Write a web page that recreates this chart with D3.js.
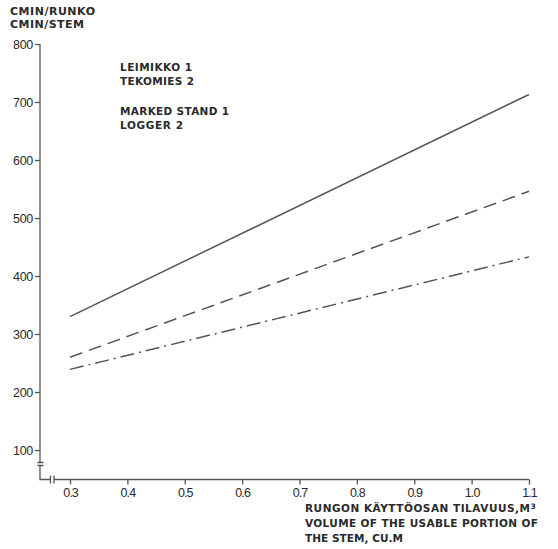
<!DOCTYPE html>
<html>
<head>
<meta charset="utf-8">
<script src="https://cdn.jsdelivr.net/npm/d3@7"></script>
<style>
  html, body { margin: 0; padding: 0; background: #fff; }
  svg { display: block; }
  .tick text { font-family: "Liberation Sans", Arial, sans-serif; font-size: 12.5px; fill: #2a2a2a; }
  .tick line { stroke: #555; stroke-width: 1.3; }
  .lbl { font-family: "DejaVu Sans", sans-serif; font-weight: bold; fill: #2a2a2a; }
</style>
</head>
<body>
<script>
// Stem volume (m³) at the ends of each fitted line
const volumes = [0.3, 1.1];
// Time per stem (cmin) for each line
const solidLine = [330, 713];
const dashedLine = [260, 546];
const dashDotLine = [239, 433];

const xTicks = [0.3, 0.4, 0.5, 0.6, 0.7, 0.8, 0.9, 1.0, 1.1];
const yTicks = [100, 200, 300, 400, 500, 600, 700, 800];

const W = 558, H = 549;
const svg = d3.select("body").append("svg").attr("width", W).attr("height", H);

const x = d3.scaleLinear().domain([0.3, 1.1]).range([70, 529]);
const y = d3.scaleLinear().domain([100, 800]).range([450, 44]);

const axisColor = "#555";

// Y axis ticks
const gy = svg.append("g").attr("transform", "translate(40,0)")
  .call(d3.axisLeft(y).tickValues(yTicks).tickSize(5).tickPadding(2).tickFormat(d3.format("d")));
gy.select(".domain").remove();
gy.selectAll(".tick text").attr("letter-spacing", "-0.3");

// X axis ticks
const gx = svg.append("g").attr("transform", "translate(0,479.5)")
  .call(d3.axisBottom(x).tickValues(xTicks).tickSize(5).tickPadding(4)
    .tickFormat(d => d.toFixed(1)));
gx.select(".domain").remove();
gx.selectAll(".tick text").attr("letter-spacing", "-0.9");

// Axis lines with break marks near the origin
const ax = svg.append("g").attr("stroke", axisColor).attr("stroke-width", 1.3).attr("fill", "none");
ax.append("path").attr("d", `M40,${y(800)}V462.5`);
ax.append("path").attr("d", "M37.5,462.5H43.5M37.5,465.5H43.5");
ax.append("path").attr("d", "M40,465.5V479.5H50.5");
ax.append("path").attr("d", "M50.5,475.5V483.5M54,475.5V483.5");
ax.append("path").attr("d", `M54,479.5H${x(1.1)}`);

// Fitted lines
const line = d3.line().x((d, i) => x(volumes[i])).y(d => y(d));
const series = [
  { values: solidLine, dash: null },
  { values: dashedLine, dash: "13,7" },
  { values: dashDotLine, dash: "14,5,2,5" }
];
svg.append("g").selectAll("path").data(series).join("path")
  .attr("d", d => line(d.values))
  .attr("fill", "none")
  .attr("stroke", "#555")
  .attr("stroke-width", 1.5)
  .attr("stroke-dasharray", d => d.dash);

// Y axis title
const yt = svg.append("text").attr("class", "lbl").attr("font-size", 11);
yt.append("tspan").attr("x", 10).attr("y", 15).attr("textLength", 85).attr("lengthAdjust", "spacing").text("CMIN/RUNKO");
yt.append("tspan").attr("x", 10).attr("y", 28).attr("textLength", 74).attr("lengthAdjust", "spacing").text("CMIN/STEM");

// Legend block
const leg = [
  { t: "LEIMIKKO 1", y: 71, w: 72 },
  { t: "TEKOMIES 2", y: 85, w: 74 },
  { t: "MARKED STAND 1", y: 115, w: 109 },
  { t: "LOGGER 2", y: 129, w: 63 }
];
svg.append("g").selectAll("text").data(leg).join("text")
  .attr("class", "lbl").attr("font-size", 10.5)
  .attr("x", 120).attr("y", d => d.y)
  .attr("textLength", d => d.w).attr("lengthAdjust", "spacing")
  .text(d => d.t);

// X axis title
const xt = svg.append("g");
const t1 = xt.append("text").attr("class", "lbl").attr("font-size", 10.5)
  .attr("x", 305).attr("y", 512);
t1.append("tspan").attr("textLength", 225).attr("lengthAdjust", "spacing").text("RUNGON KÄYTTÖOSAN TILAVUUS,M");
t1.append("tspan").attr("dy", -3).attr("font-size", 7.5).text("3");
xt.append("text").attr("class", "lbl").attr("font-size", 10.5)
  .attr("x", 305).attr("y", 527).attr("textLength", 233).attr("lengthAdjust", "spacing")
  .text("VOLUME OF THE USABLE PORTION OF");
xt.append("text").attr("class", "lbl").attr("font-size", 10.5)
  .attr("x", 305).attr("y", 542).attr("textLength", 98).attr("lengthAdjust", "spacing")
  .text("THE STEM, CU.M");
</script>
</body>
</html>
